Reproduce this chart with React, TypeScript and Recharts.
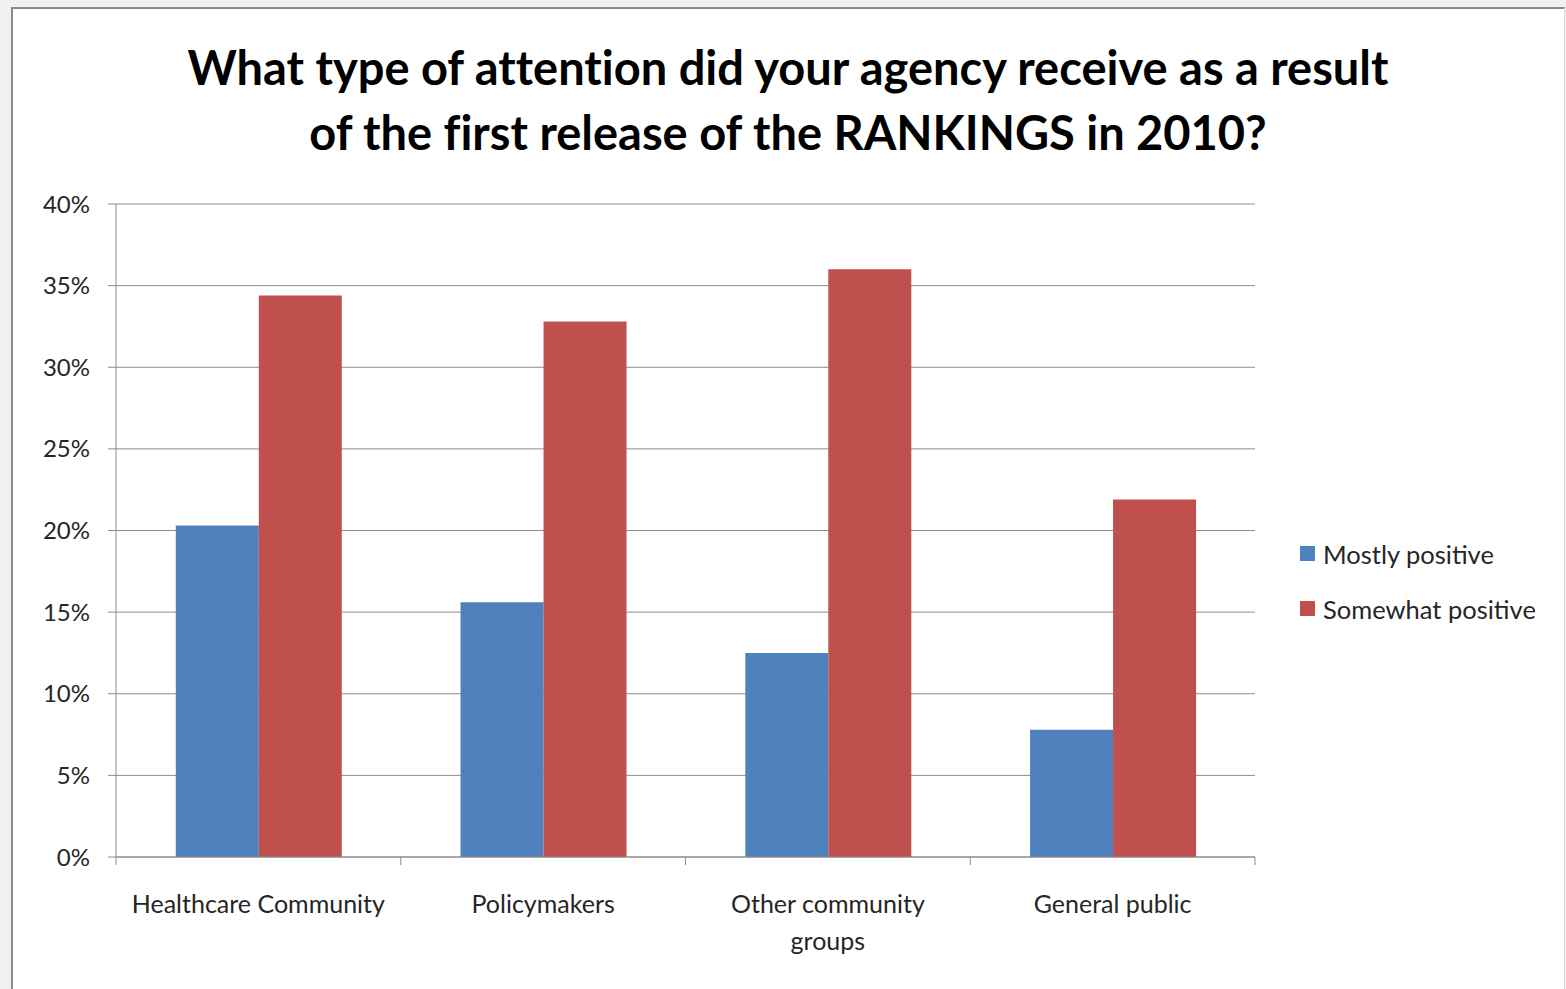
import React from "react"
import { BarChart, Bar, XAxis, YAxis, CartesianGrid, Legend } from "recharts"

const categories = ["Healthcare Community", "Policymakers", "Other community groups", "General public"]
const mostlyPositive = [20.3, 15.6, 12.5, 7.8]
const somewhatPositive = [34.4, 32.8, 36.0, 21.9]
const yTicks = [0, 5, 10, 15, 20, 25, 30, 35, 40]
const seriesNames = ["Mostly positive", "Somewhat positive"]
const seriesColors = ["#4F81BD", "#C0504D"]

const data = categories.map((name, i) => ({
  name,
  mostly: mostlyPositive[i],
  somewhat: somewhatPositive[i],
}))

const W = 1566
const H = 989
const M = { top: 204, right: 311, left: 0, bottom: 32 }
const Y_AXIS_W = 116
const PLOT_W = W - M.left - M.right - Y_AXIS_W
const FONT = "Lato, 'Open Sans', sans-serif"
const AXIS = "#8c8c8c"

// split long labels onto two lines, like Excel does
function wrap(label: string, max = 20) {
  const lines: string[] = []
  let cur = ""
  for (const w of label.split(" ")) {
    const next = cur ? cur + " " + w : w
    if (next.length > max && cur) {
      lines.push(cur)
      cur = w
    } else cur = next
  }
  if (cur) lines.push(cur)
  return lines
}

function CategoryTick(props: any) {
  const { x, y, payload, index } = props
  const band = PLOT_W / categories.length
  const lines = wrap(String(payload.value))
  // tick y sits 8px below the axis line
  return (
    <g>
      <line x1={x - band / 2} x2={x - band / 2} y1={y - 8} y2={y} stroke={AXIS} />
      {index === categories.length - 1 && (
        <line x1={x + band / 2} x2={x + band / 2} y1={y - 8} y2={y} stroke={AXIS} />
      )}
      <text x={x} y={y + 48} textAnchor="middle" fontSize={25} fill="#262626" fontFamily={FONT}>
        {lines.map((l, i) => (
          <tspan key={i} x={x} dy={i === 0 ? 0 : 37}>
            {l}
          </tspan>
        ))}
      </text>
    </g>
  )
}

function LegendBox() {
  return (
    <div style={{ fontFamily: FONT, fontSize: 25.5, color: "#262626" }}>
      {seriesNames.map((n, i) => (
        <div key={n} style={{ display: "flex", alignItems: "center", height: 55 }}>
          <span style={{ width: 15, height: 15, background: seriesColors[i], marginRight: 8, display: "inline-block" }} />
          {n}
        </div>
      ))}
    </div>
  )
}

export default function App() {
  return (
    <div style={{ position: "fixed", left: 0, top: 0, width: W, height: H, background: "#f0f0f0", overflow: "hidden" }}>
      <div
        style={{
          position: "absolute",
          left: 11,
          top: 7,
          width: 1551,
          height: 1000,
          background: "#ffffff",
          borderLeft: "2px solid #8a8a8a",
          borderTop: "2px solid #8a8a8a",
          borderRight: "1px solid #dcdcdc",
        }}
      />
      <div
        style={{
          position: "absolute",
          left: 11,
          top: 35,
          width: 1554,
          textAlign: "center",
          fontFamily: FONT,
          fontWeight: 700,
          fontSize: 47,
          lineHeight: "65px",
          color: "#000",
          fontVariantLigatures: "none",
        }}
      >
        What type of attention did your agency receive as a result
        <br />
        of the first release of the RANKINGS in 2010?
      </div>
      <div style={{ position: "absolute", left: 0, top: 0 }}>
        <BarChart width={W} height={H} data={data} margin={M} barCategoryGap="21%" barGap={0}>
          <CartesianGrid horizontal vertical={false} stroke={AXIS} strokeDasharray="" />
          <XAxis
            dataKey="name"
            axisLine={{ stroke: AXIS }}
            tickLine={false}
            interval={0}
            height={100}
            tick={<CategoryTick />}
          />
          <YAxis
            domain={[0, 40]}
            ticks={yTicks}
            width={Y_AXIS_W}
            axisLine={{ stroke: AXIS }}
            tickLine={{ stroke: AXIS }}
            tickSize={8}
            tickMargin={18}
            tickFormatter={(v) => `${v}%`}
            tick={{ fontSize: 24, fill: "#262626", fontFamily: FONT }}
          />
          <Legend
            layout="vertical"
            align="center"
            verticalAlign="middle"
            wrapperStyle={{ left: 1300, top: 526, width: 262 }}
            content={<LegendBox />}
          />
          <Bar dataKey="mostly" name={seriesNames[0]} fill={seriesColors[0]} isAnimationActive={false} />
          <Bar dataKey="somewhat" name={seriesNames[1]} fill={seriesColors[1]} isAnimationActive={false} />
        </BarChart>
      </div>
    </div>
  )
}
